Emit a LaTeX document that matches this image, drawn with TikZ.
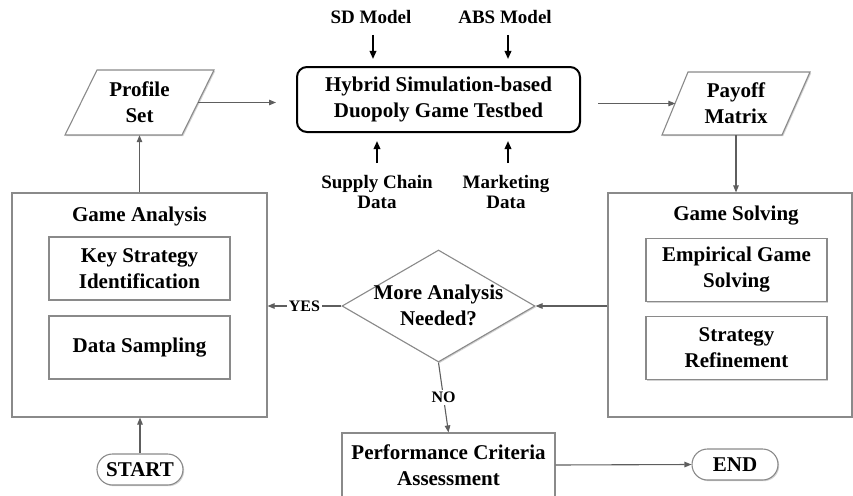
\documentclass[tikz,border=0pt]{standalone}
\usepackage{fontspec}
\setmainfont{Liberation Serif}[BoldFont={Liberation Serif Bold}]
\usetikzlibrary{shapes.geometric,arrows.meta,shadows,calc}
\definecolor{boxgray}{HTML}{8A8A8A}
\definecolor{linegray}{HTML}{5E5E5E}
\begin{document}
\begin{tikzpicture}[x=1pt,y=-1pt,
  every node/.style={font=\rmfamily\bfseries\fontsize{21}{26}\selectfont, align=center, inner sep=0pt},
  sh/.style={drop shadow={shadow xshift=1.2pt,shadow yshift=-1.2pt,fill=black!35,opacity=0.5}},
  bigbox/.style={draw=boxgray, line width=1.1pt, fill=white, sh},
  inbox/.style={draw=boxgray, line width=1.1pt, fill=white, sh, minimum width=181pt, minimum height=63pt},
  pill/.style={draw=boxgray, line width=1.1pt, fill=white, sh, rounded corners=15.5pt, minimum width=86pt, minimum height=31pt},
  para/.style={draw=boxgray, line width=1.1pt, fill=white, sh},
  side/.style={font=\rmfamily\bfseries\fontsize{19}{20}\selectfont},
  small/.style={font=\rmfamily\bfseries\fontsize{16}{18}\selectfont},
  conn/.style={draw=linegray, line width=1.1pt, -{Triangle[length=7pt,width=5.5pt]}},
  inarrow/.style={draw=black, line width=1.8pt, -{Triangle[length=8pt,width=6.5pt]}}
]
\useasboundingbox (0,0) rectangle (853,495);

% hybrid testbed
\node[draw=black, line width=2pt, rounded corners=10pt, minimum width=283pt, minimum height=65pt] (hybrid) at (438.5,99.5) {Hybrid Simulation-based\\Duopoly Game Testbed};

% side inputs
\node[side] (sd) at (371,17) {SD Model};
\node[side] (abs) at (505,17) {ABS Model};
\node[side] (sc) at (377,192) {Supply Chain\\Data};
\node[side] (mk) at (506,192) {Marketing\\Data};
\coordinate (sdtail) at (373,35);
\coordinate (abstail) at (508,35);
\coordinate (sctail) at (377,163);
\coordinate (mktail) at (508,163);
\draw[inarrow, shorten >=7pt] (sdtail) -- (sdtail |- hybrid.north);
\draw[inarrow, shorten >=7pt] (abstail) -- (abstail |- hybrid.north);
\draw[inarrow, shorten >=8pt] (sctail) -- (sctail |- hybrid.south);
\draw[inarrow, shorten >=8pt] (mktail) -- (mktail |- hybrid.south);

% profile set parallelogram
\draw[para] (97,70) -- (214,70) -- (182,135) -- (65,135) -- cycle;
\node[minimum width=117pt, minimum height=65pt] (ps) at (139.5,102.5) {Profile\\Set};

% payoff matrix parallelogram
\draw[para] (688,72) -- (810,72) -- (782,135) -- (662,135) -- cycle;
\node[minimum width=121pt, minimum height=63pt] (po) at (736,103.5) {Payoff\\Matrix};

% game analysis
\node[bigbox, minimum width=255pt, minimum height=224pt] (ga) at (139.5,305) {};
\node (gat) at (139.5,216) {Game Analysis};
\node[inbox] (ks) at (139.5,268.5) {Key Strategy\\Identification};
\node[inbox] (ds) at (139.5,347.5) {Data Sampling};

% game solving
\node[bigbox, minimum width=244pt, minimum height=224pt] (gs) at (730,305) {};
\node (gst) at (736,216) {Game Solving};
\node[inbox] (eg) at (736.5,270) {Empirical Game\\Solving};
\node[inbox] (sr) at (736.5,348) {Strategy\\Refinement};

% decision
\node[draw=boxgray, line width=1.1pt, fill=white, sh, diamond, minimum width=193pt, minimum height=112pt] (dm) at (438.5,306) {};
\node (dmt) at (438.5,305) {More Analysis\\Needed?};

% performance
\node[draw=boxgray, line width=1.1pt, fill=white, minimum width=213pt, minimum height=64pt] (pc) at (448.5,465) {Performance Criteria\\Assessment};

% terminals
\node[pill] (start) at (140,469.5) {START};
\node[pill] (end) at (735,464.5) {END};

% connectors
\draw[conn, shorten >=20pt] (ps.east) -- (ps.east -| hybrid.west);
\draw[conn, shorten <=17pt] (hybrid.east |- po.west) -- (po.west);
\draw[conn] (po.south) -- (po.south |- gs.north);
\draw[conn] (dm.east -| gs.west) -- (dm.east);
\draw[conn] (dm.west) -- (dm.west -| ga.east) node[small, midway, fill=white, inner sep=1.5pt] {YES};
\draw[conn] (dm.south) -- (pc.north) node[small, midway, fill=white, inner sep=2pt] {NO};
\draw[conn] (pc.east) -- (end.west);
\draw[conn] (start.north) -- (start.north |- ga.south);
\draw[conn] (ga.north) -- (ps.south);
\end{tikzpicture}
\end{document}
